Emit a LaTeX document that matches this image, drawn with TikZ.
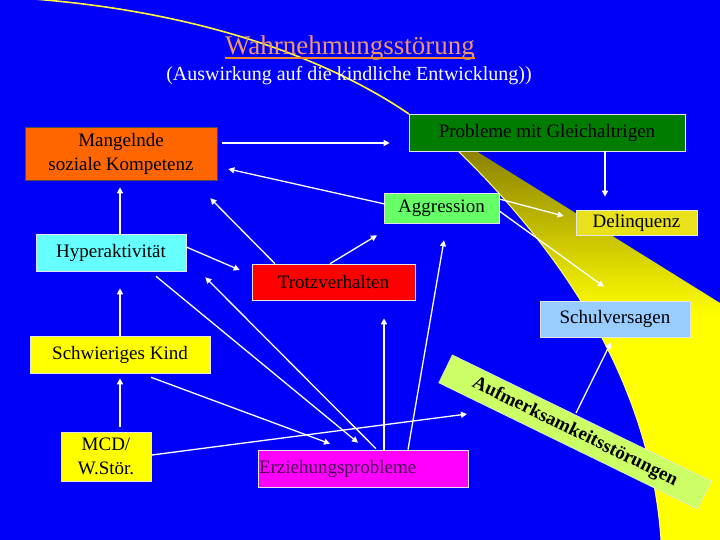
\documentclass[tikz,border=0pt]{standalone}
\usepackage{fontspec}
\setmainfont{Liberation Serif}
\usepackage{tikz}
\usetikzlibrary{arrows.meta,positioning}
\definecolor{slideblue}{RGB}{0,0,250}
\definecolor{salmon2}{RGB}{236,150,110}
\definecolor{underline2}{RGB}{240,135,45}
\definecolor{orange2}{RGB}{255,102,0}
\definecolor{green2}{RGB}{0,125,0}
\definecolor{lightgreen}{RGB}{102,255,102}
\definecolor{yellow3}{RGB}{232,225,28}
\definecolor{lightcyan}{RGB}{102,255,255}
\definecolor{red2}{RGB}{255,0,0}
\definecolor{lightblue}{RGB}{153,204,255}
\definecolor{yellow2}{RGB}{255,255,0}
\definecolor{magenta2}{RGB}{255,0,255}
\definecolor{purple2}{RGB}{70,0,80}
\definecolor{lime2}{RGB}{204,255,102}
\definecolor{olive2}{RGB}{140,130,0}
\tikzset{
  basebox/.style={draw=white!80!gray, line width=0.6pt, inner sep=0pt,
    align=center, text=black, font=\fontsize{19}{24}\selectfont},
  orangebox/.style={basebox, fill=orange2, draw=black!70},
  greenbox/.style={basebox, fill=green2},
  aggrbox/.style={basebox, fill=lightgreen},
  delinqbox/.style={basebox, fill=yellow3},
  cyanbox/.style={basebox, fill=lightcyan},
  redbox/.style={basebox, fill=red2},
  bluebox/.style={basebox, fill=lightblue},
  yellowbox/.style={basebox, fill=yellow2},
  magentabox/.style={basebox, fill=magenta2, text=purple2, align=left},
  limebox/.style={basebox, fill=lime2, font=\fontsize{19}{24}\selectfont\bfseries},
  titletext/.style={anchor=base, inner sep=0pt, text=salmon2, font=\fontsize{27}{30}\selectfont},
  subtext/.style={anchor=base, inner sep=0pt, text=white, font=\fontsize{20}{24}\selectfont},
  flow/.style={-{Triangle[length=6pt,width=6pt]}, white, line width=1.3pt}
}
\begin{document}
\begin{tikzpicture}[x=1pt, y=-1pt]
\fill[slideblue] (0,0) rectangle (720,540);
\useasboundingbox (0,0) rectangle (720,540);

% yellow sweep behind the boxes
\begin{scope}
  \clip (458,151) -- (476,151) -- (720,303) -- (720,540) -- (661,540)
    .. controls (650,380) and (560,250) .. (458,151) -- cycle;
  \shade[top color=olive2, bottom color=yellow2] (440,151) rectangle (720,315);
  \fill[yellow2] (440,314) rectangle (720,540);
\end{scope}
\draw[yellow!50!white, line width=1pt] (661,540) .. controls (650,380) and (560,250) .. (458,151);
\draw[yellow!75!white, line width=1.6pt] (20,-2) .. controls (200,10) and (330,60) .. (409,114);

\node[titletext] (title) at (350,55) {Wahrnehmungsstörung};
\draw[underline2, line width=2.5pt] ([shift={(0,3)}]title.base west) -- ([shift={(0,3)}]title.base east);
\node[subtext] (sub) at (349,81) {(Auswirkung auf die kindliche Entwicklung))};

\node[orangebox, minimum width=192pt, minimum height=53pt] (mangel) at (121,153.5) {Mangelnde\\soziale Kompetenz};
\node[greenbox, minimum width=276pt, minimum height=37pt] (probl) at (547,132.5) {Probleme mit Gleichaltrigen};
\node[aggrbox, minimum width=115pt, minimum height=30pt] (aggr) at (441.5,208) {Aggression};
\node[delinqbox, minimum width=121pt, minimum height=25pt] (delinq) at (636.5,222.5) {Delinquenz};
\node[cyanbox, minimum width=150pt, minimum height=37pt] (hyper) at (111,252.5) {Hyperaktivität};
\node[redbox, minimum width=163pt, minimum height=36pt] (trotz) at (333.5,282) {Trotzverhalten};
\node[bluebox, minimum width=150pt, minimum height=36pt] (schul) at (615,319) {Schulversagen};
\node[yellowbox, minimum width=180pt, minimum height=37pt] (schwier) at (120,354.5) {Schwieriges Kind};
\node[yellowbox, minimum width=90pt, minimum height=49pt] (mcd) at (106,456.5) {MCD/\\W.Stör.};
\node[magentabox, text width=208pt, inner xsep=1pt, minimum height=37pt] (erz) at (363,468.5) {Erziehungsprobleme};
\node[limebox, rotate=-26, minimum width=288pt, minimum height=31pt] (aufm) at (575,432) {Aufmerksamkeitsstörungen};

\draw[flow] ([shift={(5,-10.5)}]mangel.east) -- ([shift={(-19,10.5)}]probl.west);
\draw[flow] ([shift={(1,-4)}]aggr.west) -- ([shift={(11,15.5)}]mangel.east);
\draw[flow] ([shift={(58,0)}]probl.south) -- ([shift={(-31.5,-13)}]delinq.north);
\draw[flow] ([shift={(0,-9)}]aggr.east) -- ([shift={(-12,-6.5)}]delinq.west);
\draw[flow] ([shift={(0,3)}]aggr.east) -- ([shift={(-11,-14)}]schul.north);
\draw[flow] ([shift={(9,0)}]hyper.north) -- ([shift={(-1,7)}]mangel.south);
\draw[flow] ([shift={(-58.5,0)}]trotz.north) -- ([shift={(-7,18)}]mangel.south east);
\draw[flow] ([shift={(0,-5.5)}]hyper.east) -- ([shift={(-12,-12)}]trotz.west);
\draw[flow] ([shift={(-3.5,0)}]trotz.north) -- ([shift={(-64.5,12)}]aggr.south);
\draw[flow] ([shift={(45,0)}]erz.north) -- ([shift={(2.5,17)}]aggr.south);
\draw[flow] (schwier.north) -- ([shift={(9,17)}]hyper.south);
\draw[flow] ([shift={(45,5)}]hyper.south) -- ([shift={(-5,-7)}]erz.north);
\draw[flow] ([shift={(13,-1)}]erz.north) -- ([shift={(19,6)}]hyper.south east);
\draw[flow] ([shift={(21,0)}]erz.north) -- ([shift={(50.5,18)}]trotz.south);
\draw[flow] ([shift={(31,4)}]schwier.south) -- ([shift={(-33,-6)}]erz.north);
\draw[flow] ([shift={(0.5,-1.5)}]mcd.east) -- ([shift={(-108,-18)}]aufm.center);
\draw[flow] ([shift={(14,-5)}]mcd.north) -- ([shift={(0,5)}]schwier.south);
\draw[flow] ([shift={(1,-19)}]aufm.center) -- ([shift={(-4,5)}]schul.south);
\end{tikzpicture}
\end{document}
